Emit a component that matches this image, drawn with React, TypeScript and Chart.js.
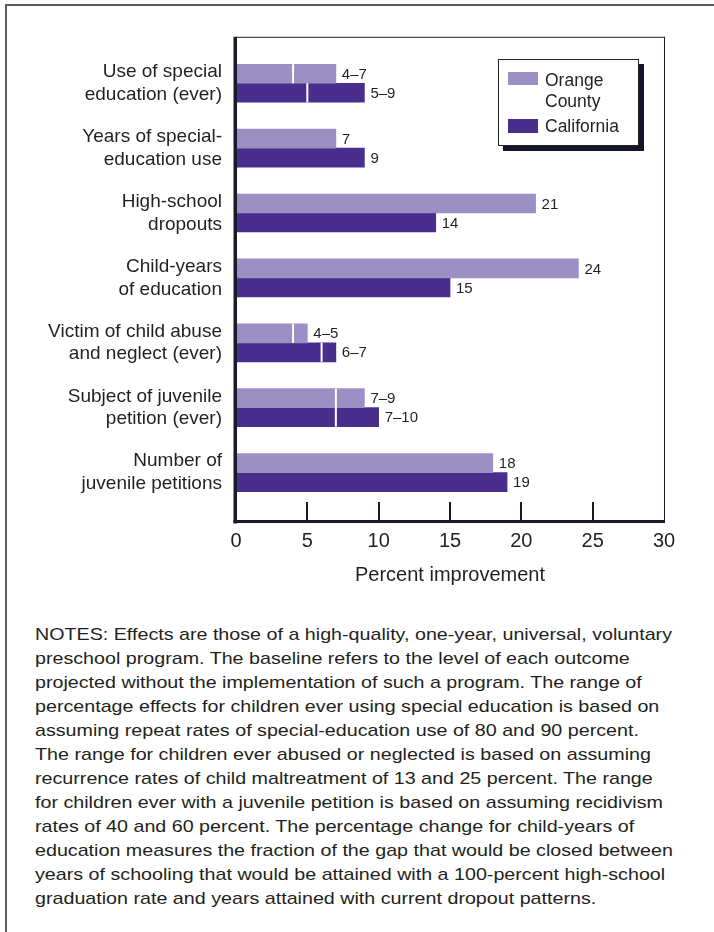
import React, { useEffect, useRef } from "react";
import { Chart, registerables } from "chart.js";

Chart.register(...registerables);

// ---------- data ----------
const categoryLines: string[][] = [
  ["Use of special", "education (ever)"],
  ["Years of special-", "education use"],
  ["High-school", "dropouts"],
  ["Child-years", "of education"],
  ["Victim of child abuse", "and neglect (ever)"],
  ["Subject of juvenile", "petition (ever)"],
  ["Number of", "juvenile petitions"],
];
const seriesNames = ["Orange County", "California"];
const orangeHigh = [7, 7, 21, 24, 5, 9, 18];
const orangeLow: (number | null)[] = [4, null, null, null, 4, 7, null];
const californiaHigh = [9, 9, 14, 15, 7, 10, 19];
const californiaLow: (number | null)[] = [5, null, null, null, 6, 7, null];
const xTicks = [0, 5, 10, 15, 20, 25, 30];
const xTitle = "Percent improvement";
const noteLines = [
  "NOTES: Effects are those of a high-quality, one-year, universal, voluntary",
  "preschool program. The baseline refers to the level of each outcome",
  "projected without the implementation of such a program. The range of",
  "percentage effects for children ever using special education is based on",
  "assuming repeat rates of special-education use of 80 and 90 percent.",
  "The range for children ever abused or neglected is based on assuming",
  "recurrence rates of child maltreatment of 13 and 25 percent. The range",
  "for children ever with a juvenile petition is based on assuming recidivism",
  "rates of 40 and 60 percent. The percentage change for child-years of",
  "education measures the fraction of the gap that would be closed between",
  "years of schooling that would be attained with a 100-percent high-school",
  "graduation rate and years attained with current dropout patterns.",
];

// ---------- style ----------
const ORANGE = "#9c8fc4";
const CALIF = "#4a2e8e";
const INK = "#231f20";
const FRAME = "#1b1a2a";
const FONT = '"Liberation Sans", Arial, sans-serif';

const decorPlugin = {
  id: "decor",
  afterDatasetsDraw(chart: any) {
    const ctx = chart.ctx;
    const xs = chart.scales.x;
    const lows = [orangeLow, californiaLow];
    const highs = [orangeHigh, californiaHigh];
    chart.data.datasets.forEach((_ds: any, di: number) => {
      const meta = chart.getDatasetMeta(di);
      meta.data.forEach((bar: any, i: number) => {
        const low = lows[di][i];
        const high = highs[di][i];
        const h = bar.height;
        if (low != null) {
          const px = xs.getPixelForValue(low);
          ctx.save();
          ctx.fillStyle = "#ffffff";
          ctx.fillRect(px - 1, bar.y - h / 2, 2, h);
          ctx.restore();
        }
        const label = low != null ? `${low}\u2013${high}` : `${high}`;
        ctx.save();
        ctx.font = `15px ${FONT}`;
        ctx.fillStyle = INK;
        ctx.textAlign = "left";
        ctx.textBaseline = "middle";
        ctx.fillText(label, bar.x + 6, bar.y + 1);
        ctx.restore();
      });
    });
  },
  afterDraw(chart: any) {
    const { ctx, chartArea: a } = chart;
    const xs = chart.scales.x;
    ctx.save();
    ctx.strokeStyle = FRAME;
    ctx.lineWidth = 1;
    ctx.beginPath();
    ctx.moveTo(a.left, a.top + 0.5);
    ctx.lineTo(a.right + 1, a.top + 0.5);
    ctx.moveTo(a.right + 0.5, a.top);
    ctx.lineTo(a.right + 0.5, a.bottom);
    ctx.stroke();
    ctx.lineWidth = 2;
    xTicks.slice(1, -1).forEach((v) => {
      const px = Math.round(xs.getPixelForValue(v));
      ctx.beginPath();
      ctx.moveTo(px, a.bottom);
      ctx.lineTo(px, a.bottom - 19);
      ctx.stroke();
    });
    ctx.fillStyle = FRAME;
    ctx.fillRect(a.left - 2.5, a.top, 3.5, a.bottom - a.top + 2.5);
    ctx.fillRect(a.left - 2.5, a.bottom - 1, a.right - a.left + 3.5, 3);
    ctx.restore();
  },
};

export default function App() {
  const canvasRef = useRef<HTMLCanvasElement>(null);
  const notesRef = useRef<HTMLDivElement>(null);

  useEffect(() => {
    const chart = new Chart(canvasRef.current as HTMLCanvasElement, {
      type: "bar",
      data: {
        datasets: [
          {
            label: seriesNames[0],
            data: orangeHigh.map((v, i) => ({ x: v, y: i })),
            backgroundColor: ORANGE,
            borderWidth: 0,
            barThickness: 19,
          },
          {
            label: seriesNames[1],
            data: californiaHigh.map((v, i) => ({ x: v, y: i })),
            backgroundColor: CALIF,
            borderWidth: 0,
            barThickness: 19,
          },
        ],
      } as any,
      options: {
        indexAxis: "y",
        responsive: false,
        animation: false,
        layout: { padding: { top: 36, right: 50, left: 0, bottom: 0 } },
        plugins: { legend: { display: false }, tooltip: { enabled: false } },
        scales: {
          x: {
            type: "linear",
            position: "bottom",
            min: 0,
            max: 30,
            bounds: "data",
            grid: { display: false, drawTicks: false },
            border: { display: false },
            afterBuildTicks: (s: any) => {
              s.ticks = xTicks.map((v) => ({ value: v }));
            },
            ticks: { font: { family: FONT, size: 20 }, color: INK, padding: 8 },
            title: {
              display: true,
              text: xTitle,
              font: { family: FONT, size: 20 },
              color: INK,
              padding: { top: 0, bottom: 13 },
            },
            afterFit: (s: any) => {
              s.height = 79;
            },
          },
          y: {
            type: "linear",
            position: "left",
            reverse: true,
            offset: false,
            bounds: "data",
            min: -0.7154,
            max: 6.746,
            grid: { display: false, drawTicks: false },
            border: { display: false },
            afterBuildTicks: (s: any) => {
              s.ticks = categoryLines.map((_, i) => ({ value: i }));
            },
            ticks: {
              font: { family: FONT, size: 19, lineHeight: 1.2 },
              color: INK,
              padding: 14,
              callback: (v: any) => categoryLines[v as number] ?? "",
            },
            afterFit: (s: any) => {
              s.width = 236;
            },
          },
        } as any,
      },
      plugins: [decorPlugin],
    });
    return () => chart.destroy();
  }, []);

  useEffect(() => {
    const el = notesRef.current;
    if (!el) return;
    const c = document.createElement("canvas").getContext("2d");
    if (!c) return;
    c.font = `17px ${FONT}`;
    const w = c.measureText(noteLines[0]).width;
    if (w > 0) el.style.transform = `scaleX(${637 / w})`;
  }, []);

  return (
    <div
      style={{
        position: "absolute",
        left: 0,
        top: 0,
        width: 714,
        height: 932,
        overflow: "hidden",
        background: "#ffffff",
        fontFamily: FONT,
        color: INK,
      }}
    >
      <div
        style={{
          position: "absolute",
          left: 5,
          top: 4,
          width: 720,
          height: 940,
          borderTop: "2px solid #5a5a5a",
          borderLeft: "2px solid #5a5a5a",
        }}
      />
      <canvas
        ref={canvasRef}
        width={714}
        height={600}
        style={{ position: "absolute", left: 0, top: 0, width: 714, height: 600 }}
      />
      <div
        style={{
          position: "absolute",
          left: 498,
          top: 59,
          width: 141,
          height: 87,
          boxSizing: "border-box",
          border: "1px solid #222",
          background: "#fff",
          boxShadow: "5px 5px 0 #14142a",
          fontSize: 17.5,
        }}
      >
        <div style={{ position: "absolute", left: 9, top: 12, width: 30, height: 13, background: ORANGE }} />
        <div style={{ position: "absolute", left: 46, top: 10, lineHeight: "21.3px", whiteSpace: "nowrap" }}>
          Orange
          <br />
          County
        </div>
        <div style={{ position: "absolute", left: 9, top: 59, width: 30, height: 14, background: CALIF }} />
        <div style={{ position: "absolute", left: 46, top: 56, lineHeight: "21.3px", whiteSpace: "nowrap" }}>
          California
        </div>
      </div>
      <div
        ref={notesRef}
        style={{
          position: "absolute",
          left: 35,
          top: 623,
          fontSize: 17,
          lineHeight: "24px",
          whiteSpace: "nowrap",
          transformOrigin: "left top",
        }}
      >
        {noteLines.map((l, i) => (
          <div key={i}>{l}</div>
        ))}
      </div>
    </div>
  );
}
